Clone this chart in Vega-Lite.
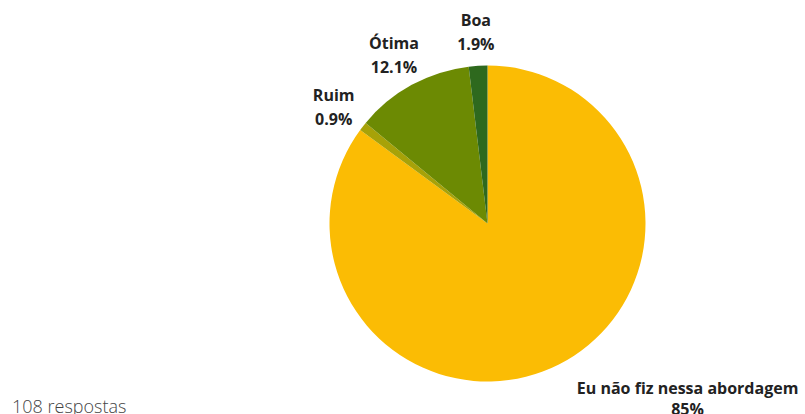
{
  "$schema": "https://vega.github.io/schema/vega-lite/v6.json",
  "width": 635,
  "height": 381,
  "autosize": {"type": "none"},
  "padding": {"left": 170, "top": 33, "right": 0, "bottom": 0},
  "background": "white",
  "title": {
    "text": "108 respostas",
    "orient": "bottom",
    "anchor": "start",
    "dx": -158,
    "offset": 0,
    "dy": -5,
    "baseline": "alphabetic",
    "font": "Open Sans",
    "fontSize": 18,
    "fontWeight": 300,
    "color": "#444444"
  },
  "data": {
    "values": [
      {"resposta": "Eu não fiz nessa abordagem", "pct": 85.0, "rotulo": "Eu não fiz nessa abordagem\n85%", "ordem": 1},
      {"resposta": "Ruim", "pct": 0.9, "rotulo": "Ruim\n0.9%", "ordem": 2},
      {"resposta": "Ótima", "pct": 12.1, "rotulo": "Ótima\n12.1%", "ordem": 3},
      {"resposta": "Boa", "pct": 1.9, "rotulo": "Boa\n1.9%", "ordem": 4}
    ]
  },
  "encoding": {
    "theta": {"field": "pct", "type": "quantitative", "stack": true},
    "order": {"field": "ordem", "type": "quantitative"}
  },
  "layer": [
    {
      "mark": {"type": "arc", "outerRadius": 158},
      "encoding": {
        "color": {
          "field": "resposta",
          "type": "nominal",
          "scale": {
            "domain": ["Eu não fiz nessa abordagem", "Ruim", "Ótima", "Boa"],
            "range": ["#FBBC04", "#A7A208", "#6C8A03", "#2E691E"]
          },
          "legend": null
        }
      }
    },
    {
      "mark": {"type": "text", "radius": 195, "dy": -8, "font": "Open Sans", "fontSize": 16, "fontWeight": "bold", "color": "#222222", "lineBreak": "\n", "lineHeight": 24, "align": "center", "baseline": "middle"},
      "encoding": {
        "text": {
          "condition": {"test": "datum.resposta !== 'Eu não fiz nessa abordagem'", "field": "rotulo"},
          "value": ""
        }
      }
    },
    {
      "mark": {"type": "text", "radius": 195, "dx": 112, "dy": -8, "font": "Open Sans", "fontSize": 16, "fontWeight": "bold", "color": "#222222", "lineBreak": "\n", "lineHeight": 21, "align": "center", "baseline": "middle"},
      "encoding": {
        "text": {
          "condition": {"test": "datum.resposta === 'Eu não fiz nessa abordagem'", "field": "rotulo"},
          "value": ""
        }
      }
    }
  ],
  "config": {"view": {"stroke": null}}
}
